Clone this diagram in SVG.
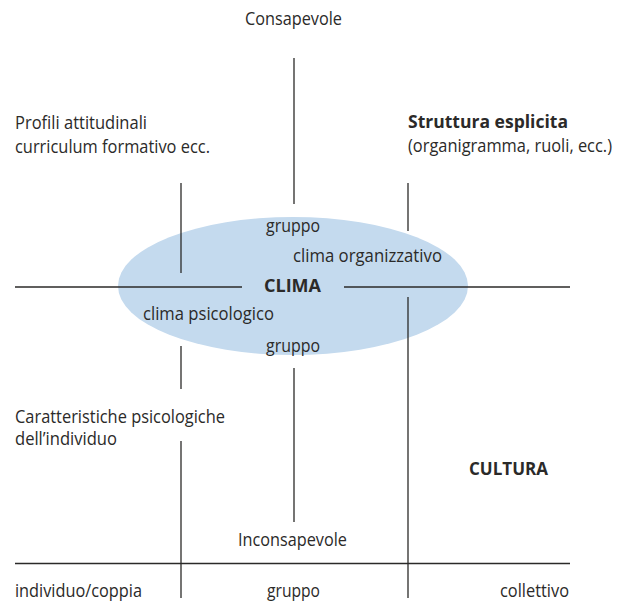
<svg xmlns="http://www.w3.org/2000/svg" width="619" height="603" viewBox="0 0 619 603">
<style>
text{font-family:"Open Sans","Liberation Sans",sans-serif;font-size:18px;fill:#2b2a29}
.b{font-weight:bold}
line{stroke:#2b2a29;stroke-width:1.3}
</style>
<rect width="619" height="603" fill="#fff"/>
<g id="ellipse"><ellipse cx="293" cy="286" rx="175" ry="69" fill="#c4daee"/></g>
<g id="connectors">
<line x1="294" y1="58" x2="294" y2="204"/>
<line x1="294" y1="368" x2="294" y2="522"/>
<line x1="15" y1="287" x2="242" y2="287"/>
<line x1="344" y1="287" x2="570" y2="287"/>
<line x1="15" y1="563.5" x2="570" y2="563.5"/>
<line x1="181" y1="183" x2="181" y2="273"/>
<line x1="181" y1="346" x2="181" y2="389"/>
<line x1="181" y1="441" x2="181" y2="598"/>
<line x1="408" y1="183" x2="408" y2="231"/>
<line x1="408" y1="297" x2="408" y2="598"/>
</g>
<g id="top"><text x="245" y="25" textLength="97" lengthAdjust="spacingAndGlyphs">Consapevole</text></g>
<g id="profili"><text x="15" y="129" textLength="132" lengthAdjust="spacingAndGlyphs">Profili attitudinali</text><text x="15" y="153" textLength="195" lengthAdjust="spacingAndGlyphs">curriculum formativo ecc.</text></g>
<g id="struttura"><text x="408" y="128" class="b" textLength="160" lengthAdjust="spacingAndGlyphs">Struttura esplicita</text><text x="408" y="152" textLength="204" lengthAdjust="spacingAndGlyphs">(organigramma, ruoli, ecc.)</text></g>
<g id="gruppo-top"><text x="266" y="232" textLength="54" lengthAdjust="spacingAndGlyphs">gruppo</text></g>
<g id="clima-org"><text x="293" y="262" textLength="149" lengthAdjust="spacingAndGlyphs">clima organizzativo</text></g>
<g id="clima"><text x="264" y="292" class="b" textLength="57" lengthAdjust="spacingAndGlyphs">CLIMA</text></g>
<g id="clima-psi"><text x="143" y="320" textLength="131" lengthAdjust="spacingAndGlyphs">clima psicologico</text></g>
<g id="gruppo-mid"><text x="266" y="352" textLength="54" lengthAdjust="spacingAndGlyphs">gruppo</text></g>
<g id="caratteristiche"><text x="15" y="423" textLength="210" lengthAdjust="spacingAndGlyphs">Caratteristiche psicologiche</text><text x="15" y="445" textLength="102" lengthAdjust="spacingAndGlyphs">dell’individuo</text></g>
<g id="cultura"><text x="469" y="475" class="b" textLength="79" lengthAdjust="spacingAndGlyphs">CULTURA</text></g>
<g id="bottom"><text x="238" y="546" textLength="109" lengthAdjust="spacingAndGlyphs">Inconsapevole</text></g>
<g id="individuo"><text x="15" y="597" textLength="127" lengthAdjust="spacingAndGlyphs">individuo/coppia</text></g>
<g id="gruppo-bottom"><text x="267" y="597" textLength="53" lengthAdjust="spacingAndGlyphs">gruppo</text></g>
<g id="collettivo"><text x="500" y="597" textLength="69" lengthAdjust="spacingAndGlyphs">collettivo</text></g>
</svg>
